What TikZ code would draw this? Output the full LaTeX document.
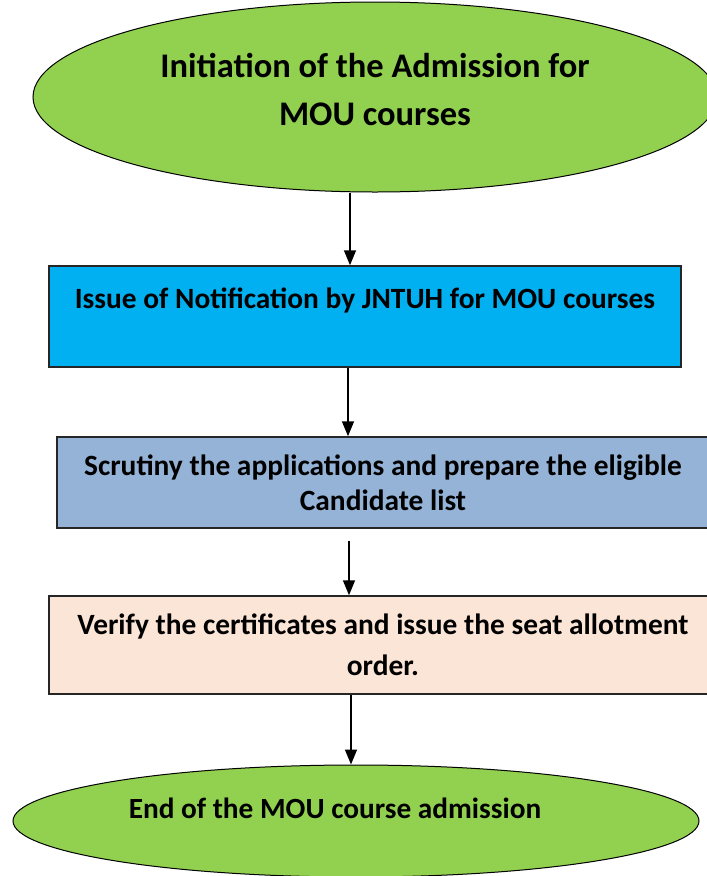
\documentclass[tikz,border=0pt]{standalone}
\usepackage{fontspec}
\setmainfont{Carlito}
\usetikzlibrary{shapes.geometric,arrows.meta}
\definecolor{ovalgreen}{HTML}{92D050}
\definecolor{notifblue}{HTML}{00B0F0}
\definecolor{scrutinyblue}{HTML}{95B3D7}
\definecolor{verifypeach}{HTML}{FBE5D6}

\begin{document}
\begin{tikzpicture}[x=1pt,y=-1pt,
  oval/.style={ellipse,draw=black,fill=ovalgreen,line width=1pt,inner sep=0pt,align=center},
  stepbox/.style={rectangle,draw=black!85,line width=1.5pt,inner sep=0pt,align=center},
  arr/.style={-{Triangle[length=15pt,width=12pt]},line width=1.6pt}]
  \useasboundingbox (0,0) rectangle (707,876);
  \clip (0,0) rectangle (707,876);

  \node[oval,minimum width=684pt,minimum height=190pt,
    font=\fontsize{34.5}{48}\selectfont\bfseries] (init) at (375,97)
    {Initiation of the Admission for\\MOU courses\\[-32pt]\mbox{}};
  \node[stepbox,fill=notifblue,minimum width=632pt,minimum height=101pt,
    font=\fontsize{29.4}{36}\selectfont\bfseries] (notif) at (365,316.5)
    {Issue of Notification by JNTUH for MOU courses\\\mbox{}};
  \node[stepbox,fill=scrutinyblue,minimum width=652pt,minimum height=91pt,
    font=\fontsize{29.4}{35}\selectfont\bfseries] (scrutiny) at (383,482.5)
    {Scrutiny the applications and prepare the eligible\\Candidate list};
  \node[stepbox,fill=verifypeach,minimum width=668pt,minimum height=98pt,
    font=\fontsize{29.4}{41}\selectfont\bfseries] (verify) at (383,645)
    {Verify the certificates and issue the seat allotment\\order.};
  \node[oval,minimum width=686pt,minimum height=112pt,
    font=\fontsize{29.3}{26}\selectfont\bfseries] (finish) at (356,821)
    {End of the MOU course admission\hspace*{42pt}\\\mbox{}};

  \draw[arr] (init.south -| 350,0) -- (notif.north -| 350,0);
  \draw[arr] (notif.south -| 348,0) -- (scrutiny.north -| 348,0);
  \draw[arr,shorten <=12pt] (scrutiny.south -| 349,0) -- (verify.north -| 349,0);
  \draw[arr] (verify.south -| 351,0) -- (finish.north -| 351,0);
\end{tikzpicture}
\end{document}
